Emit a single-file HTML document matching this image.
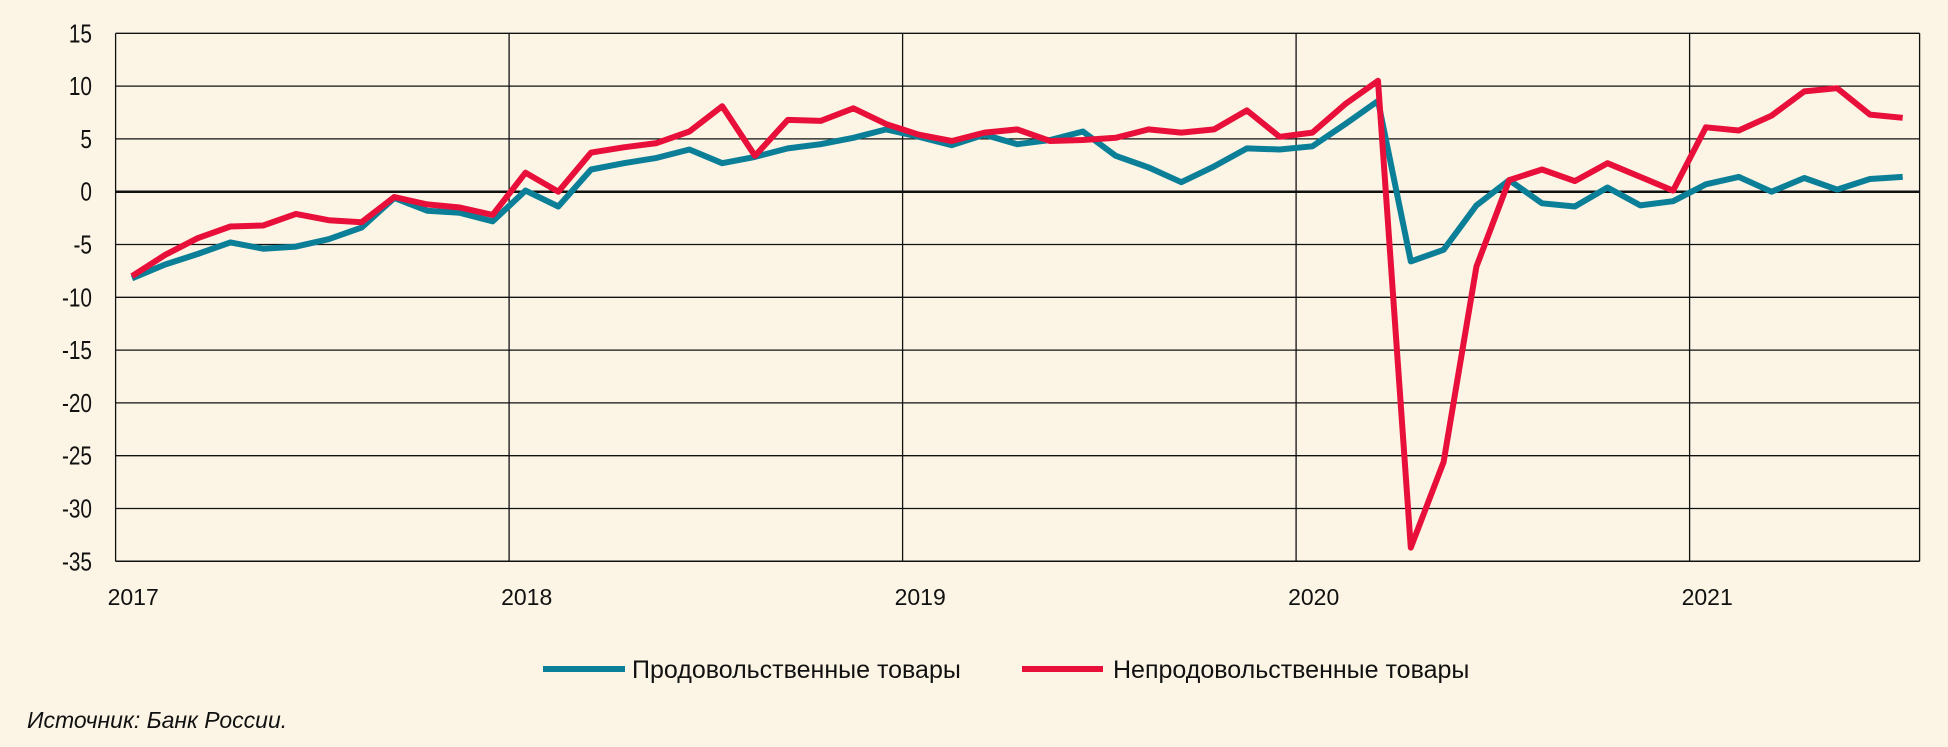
<!DOCTYPE html>
<html><head><meta charset="utf-8"><style>
html,body{margin:0;padding:0;background:#fcf5e5;}
svg{display:block;}
text{font-family:"Liberation Sans",sans-serif;fill:#111;}
</style></head><body>
<svg id="c" width="1948" height="747" viewBox="0 0 1948 747" xmlns="http://www.w3.org/2000/svg">
<rect width="1948" height="747" fill="#fcf5e5"/>
<g id="grid"></g>
<g id="lines"></g>
<line x1="543" y1="669" x2="625" y2="669" stroke="#0a7f97" stroke-width="6"/>
<text x="632" y="678" font-size="25">Продовольственные товары</text>
<line x1="1022" y1="669" x2="1103" y2="669" stroke="#e8103a" stroke-width="6"/>
<text x="1113" y="678" font-size="25">Непродовольственные товары</text>
<text x="27" y="728" font-size="23" font-style="italic">Источник:  Банк России.</text>
</svg>
<script>
var L=115.6,R=1919.6,T=33.3,B=561.3,Y0=191.7,U=52.8/5;
var ns="http://www.w3.org/2000/svg";
function el(p,t,a,txt){var e=document.createElementNS(ns,t);for(var k in a)e.setAttribute(k,a[k]);if(txt!==undefined)e.textContent=txt;p.appendChild(e);return e;}
var g=document.getElementById('grid');
for(var v=15;v>=-35;v-=5){var y=Y0-v*U;
 el(g,'line',{x1:L,x2:R,y1:y,y2:y,stroke:'#111','stroke-width':v==0?2.5:1.3});
 el(g,'text',{x:92/0.8,y:y+9,'font-size':26,'text-anchor':'end',transform:'scale(0.8,1)'},String(v));
}
for(var yr=2017;yr<=2021;yr++){var x=L+393.5*(yr-2017);
 el(g,'line',{x1:x,x2:x,y1:T,y2:B,stroke:'#111','stroke-width':1.3});
 el(g,'text',{x:x-8,y:605,'font-size':23},String(yr));
}
el(g,'line',{x1:R,x2:R,y1:T,y2:B,stroke:'#111','stroke-width':1.3});
el(g,'line',{x1:L,x2:R,y1:B,y2:B,stroke:'#111','stroke-width':1.5});
var food=[-8.2,-6.9,-5.9,-4.8,-5.4,-5.2,-4.5,-3.4,-0.6,-1.8,-2.0,-2.8,
0.1,-1.4,2.1,2.7,3.2,4.0,2.7,3.3,4.1,4.5,5.1,5.9,
5.2,4.4,5.4,4.5,4.9,5.7,3.4,2.3,0.9,2.4,4.1,4.0,
4.3,6.4,8.6,-6.6,-5.5,-1.3,1.1,-1.1,-1.4,0.4,-1.3,-0.9,
0.7,1.4,0.0,1.3,0.2,1.2,1.4];
var non=[-8.0,-6.0,-4.4,-3.3,-3.2,-2.1,-2.7,-2.9,-0.5,-1.2,-1.5,-2.2,
1.8,0.0,3.7,4.2,4.6,5.7,8.1,3.4,6.8,6.7,7.9,6.4,
5.4,4.8,5.6,5.9,4.8,4.9,5.1,5.9,5.6,5.9,7.7,5.2,
5.6,8.3,10.5,-33.7,-25.6,-7.1,1.1,2.1,1.0,2.7,1.4,0.1,
6.1,5.8,7.2,9.5,9.8,7.3,7.0];
var lg=document.getElementById('lines');
function pts(a){return a.map(function(v,i){return (L+16.4+i*32.79).toFixed(1)+','+(Y0-v*U).toFixed(1);}).join(' ');}
el(lg,'polyline',{points:pts(food),fill:'none',stroke:'#0a7f97','stroke-width':6,'stroke-linejoin':'round'});
el(lg,'polyline',{points:pts(non),fill:'none',stroke:'#e8103a','stroke-width':6,'stroke-linejoin':'round'});
</script>
</body></html>
